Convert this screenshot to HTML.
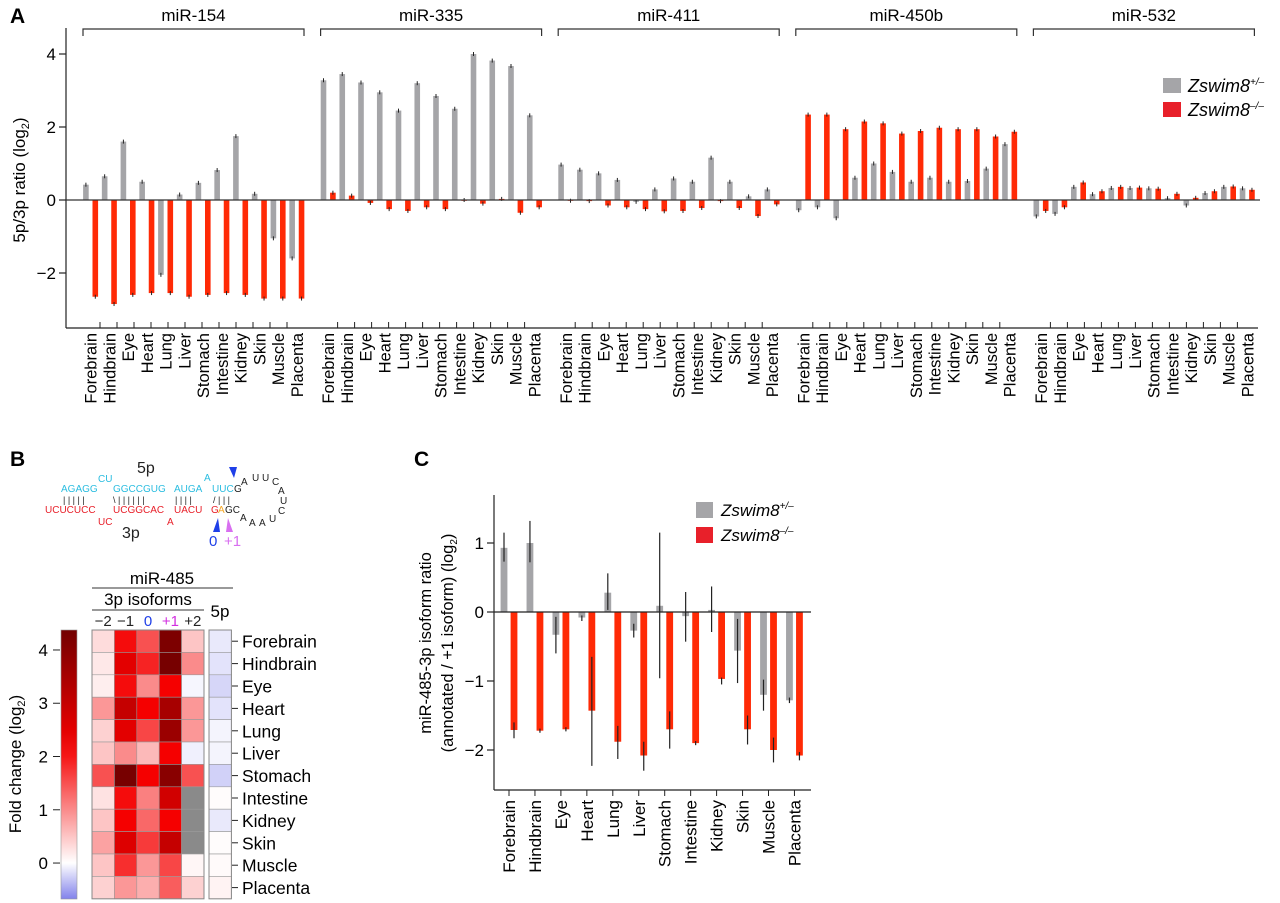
<!DOCTYPE html>
<html><head><meta charset="utf-8">
<style>
html,body{margin:0;padding:0;background:#fff;}
svg{display:block;font-family:"Liberation Sans",Arial,sans-serif;}
</style></head>
<body>
<svg id="fig" width="1280" height="903" viewBox="0 0 1280 903" xmlns="http://www.w3.org/2000/svg">
<text x="10" y="23" font-size="21" font-weight="bold">A</text>
<text x="10" y="466" font-size="21" font-weight="bold">B</text>
<text x="414" y="466" font-size="21" font-weight="bold">C</text>
<g id="pa"></g>
<g id="pb"></g>
<g id="pc"></g>
<g id="hp"></g>
</svg>
<script>
// ---------- data ----------
const tissues = ["Forebrain","Hindbrain","Eye","Heart","Lung","Liver","Stomach","Intestine","Kidney","Skin","Muscle","Placenta"];
const mirnas = ["miR-154","miR-335","miR-411","miR-450b","miR-532"];
const hetA_154 = [0.42,0.65,1.6,0.5,-2.05,0.15,0.47,0.82,1.75,0.17,-1.05,-1.6];
const koA_154  = [-2.65,-2.85,-2.6,-2.55,-2.55,-2.65,-2.6,-2.55,-2.6,-2.7,-2.7,-2.7];
const hetA_335 = [3.28,3.45,3.22,2.95,2.45,3.2,2.85,2.5,4.0,3.82,3.67,2.32];
const koA_335  = [0.2,0.12,-0.08,-0.25,-0.3,-0.2,-0.25,0.0,-0.1,0.03,-0.35,-0.2];
const hetA_411 = [0.97,0.83,0.73,0.55,-0.05,0.29,0.59,0.5,1.16,0.5,0.1,0.29];
const koA_411  = [-0.02,-0.03,-0.15,-0.2,-0.25,-0.31,-0.3,-0.22,-0.03,-0.22,-0.44,-0.12];
const hetA_450b= [-0.28,-0.2,-0.5,0.61,1.0,0.77,0.5,0.61,0.5,0.52,0.86,1.53];
const koA_450b = [2.34,2.34,1.94,2.15,2.1,1.82,1.89,1.98,1.94,1.94,1.74,1.87];
const hetA_532 = [-0.45,-0.38,0.36,0.16,0.33,0.33,0.32,0.05,-0.15,0.19,0.36,0.32];
const koA_532  = [-0.3,-0.2,0.48,0.24,0.36,0.34,0.31,0.17,0.06,0.24,0.37,0.28];
const hetA = [hetA_154,hetA_335,hetA_411,hetA_450b,hetA_532];
const koA = [koA_154,koA_335,koA_411,koA_450b,koA_532];
const yTicksA = [-2,0,2,4];
const yTickLabelsA = ["\u22122","0","2","4"];

const hetC = [0.93,1.0,-0.33,-0.08,0.28,-0.27,0.09,-0.06,0.03,-0.56,-1.2,-1.28];
const hetCLo = [0.73,0.72,-0.6,-0.13,0.03,-0.37,-0.96,-0.43,-0.29,-1.03,-1.43,-1.32];
const hetCHi = [1.15,1.32,-0.07,-0.05,0.56,-0.17,1.15,0.29,0.37,-0.1,-0.98,-1.24];
const koC = [-1.71,-1.72,-1.7,-1.43,-1.88,-2.08,-1.7,-1.9,-0.97,-1.7,-2.0,-2.08];
const koCLo = [-1.83,-1.75,-1.73,-2.23,-2.13,-2.3,-1.98,-1.93,-1.05,-1.92,-2.18,-2.15];
const koCHi = [-1.6,-1.69,-1.67,-0.65,-1.65,-1.88,-1.44,-1.87,-0.95,-1.5,-1.82,-2.03];
const yTicksC = [-2,-1,0,1];
const yTickLabelsC = ["\u22122","\u22121","0","1"];

const isoCols = ["\u22122","\u22121","0","+1","+2"];
const heatIso = [
 [0.3,2.1,1.5,4.2,0.5],
 [0.2,2.5,1.9,4.3,1.0],
 [0.15,2.1,1.0,2.2,-0.05],
 [0.9,3.0,2.2,3.5,0.9],
 [0.4,2.5,1.6,3.7,0.9],
 [0.5,1.0,0.6,2.2,-0.08],
 [1.5,4.3,2.2,4.0,1.5],
 [0.25,2.1,1.1,2.8,null],
 [0.5,2.2,1.3,2.2,null],
 [0.8,2.6,1.7,3.0,null],
 [0.5,1.8,0.9,1.6,0.08],
 [0.4,0.9,0.7,1.4,0.4]];
const heat5p = [-0.12,-0.15,-0.22,-0.15,-0.06,-0.06,-0.25,0.03,-0.12,0.03,0.04,0.1];
const cbTicks = [0,1,2,3,4];

// ---------- helpers ----------
const NS="http://www.w3.org/2000/svg";
function mk(parent,tag,attrs,txt){const e=document.createElementNS(NS,tag);for(const k in attrs)e.setAttribute(k,attrs[k]);if(txt!==undefined)e.textContent=txt;parent.appendChild(e);return e;}
const GREY="#a5a5a8", RED="#ff2a06", RED2="#e8202a";

// ---------- Panel A ----------
const pa=document.getElementById('pa');
const yA=v=>200-v*36.5;
const axL=66, axTop=28, axBot=328;
let e;
e=mk(pa,'line',{x1:axL,y1:axTop,x2:axL,y2:axBot,stroke:'#222','stroke-width':1.2});


e=mk(pa,'line',{x1:axL,y1:axBot,x2:1258,y2:axBot,stroke:'#222','stroke-width':1.2});


yTicksA.forEach((t,i)=>{
 mk(pa,'line',{x1:axL-7,y1:yA(t),x2:axL,y2:yA(t),stroke:'#222','stroke-width':1.2});
 e=mk(pa,'text',{x:axL-10,y:yA(t)+6,'font-size':17,'text-anchor':'end'},yTickLabelsA[i]);
 
 
});
e=mk(pa,'text',{x:0,y:0,'font-size':17,'text-anchor':'middle',transform:'translate(25,180) rotate(-90)'});


e.innerHTML='5p/3p ratio (log<tspan font-size="11" dy="4">2</tspan><tspan dy="-4">)</tspan>';
const groupW=237.6, pairW=18.75, firstPair=90.6, bw=5.6;
mirnas.forEach((m,g)=>{
 const gx=g*groupW;
 const bx1=83+gx, bx2=304+gx;
 e=mk(pa,'path',{d:`M${bx1},36 V29 H${bx2} V36`,fill:'none',stroke:'#333','stroke-width':1.2});
 
 
 e=mk(pa,'text',{x:(bx1+bx2)/2,y:21,'font-size':17,'text-anchor':'middle'},m);
 
 
 tissues.forEach((t,i)=>{
  const cx=firstPair+gx+i*pairW;
  const tx=100+gx+i*17;
  mk(pa,'line',{x1:tx,y1:axBot-6,x2:tx,y2:axBot,stroke:'#222','stroke-width':1});
  e=mk(pa,'text',{x:0,y:0,'font-size':16.5,'text-anchor':'end',transform:`translate(${cx+6},${axBot+5}) rotate(-90)`},t);
  
  
  [[hetA[g][i],GREY,cx-4.7,'bar-het'],[koA[g][i],RED,cx+4.7,'bar-ko']].forEach(([v,c,x,n])=>{
   const y0=yA(0), y1=yA(v);
   e=mk(pa,'rect',{x:x-bw/2,y:Math.min(y0,y1),width:bw,height:Math.max(0.8,Math.abs(y1-y0)),fill:c});
   
   
   mk(pa,'line',{x1:x,y1:y1-2,x2:x,y2:y1+2,stroke:'#222','stroke-width':1});
  });
 });
});
e=mk(pa,'line',{x1:axL,y1:yA(0),x2:1260,y2:yA(0),stroke:'#333','stroke-width':1.2});


// legend A
e=mk(pa,'rect',{x:1163,y:78,width:18,height:15,fill:GREY});


e=mk(pa,'rect',{x:1163,y:102,width:18,height:15,fill:RED2});


e=mk(pa,'text',{x:1188,y:92,'font-size':18,'font-style':'italic'});
e.innerHTML='Zswim8<tspan font-size="10" dy="-7">+/\u2013</tspan>';


e=mk(pa,'text',{x:1188,y:116,'font-size':18,'font-style':'italic'});
e.innerHTML='Zswim8<tspan font-size="10" dy="-7">\u2013/\u2013</tspan>';



// ---------- Panel C ----------
const pc=document.getElementById('pc');
const yC=v=>612-v*69;
const cL=494, cT=495, cB=790, cR=811;
e=mk(pc,'line',{x1:cL,y1:cT,x2:cL,y2:cB,stroke:'#222','stroke-width':1.2});


e=mk(pc,'line',{x1:cL,y1:cB,x2:cR,y2:cB,stroke:'#222','stroke-width':1.2});


yTicksC.forEach((t,i)=>{
 mk(pc,'line',{x1:cL-7,y1:yC(t),x2:cL,y2:yC(t),stroke:'#222','stroke-width':1.2});
 e=mk(pc,'text',{x:cL-10,y:yC(t)+6,'font-size':17,'text-anchor':'end'},yTickLabelsC[i]);
 
 
});
e=mk(pc,'text',{x:0,y:0,'font-size':16.5,'text-anchor':'middle',transform:'translate(431,643) rotate(-90)'},'miR-485-3p isoform ratio');


e=mk(pc,'text',{x:0,y:0,'font-size':16.5,'text-anchor':'middle',transform:'translate(453,643) rotate(-90)'});
e.innerHTML='(annotated / +1 isoform) (log<tspan font-size="10" dy="4">2</tspan><tspan dy="-4">)</tspan>';


tissues.forEach((t,i)=>{
 const tx=509+i*25.95;
 mk(pc,'line',{x1:tx,y1:cB,x2:tx,y2:cB+6,stroke:'#222','stroke-width':1});
 e=mk(pc,'text',{x:0,y:0,'font-size':17,'text-anchor':'end',transform:`translate(${tx+6},${cB+10}) rotate(-90)`},t);
 
 
 [[hetC[i],hetCLo[i],hetCHi[i],GREY,tx-5,'bar-het-c'],[koC[i],koCLo[i],koCHi[i],RED,tx+5,'bar-ko-c']].forEach(([v,lo,hi,c,x,n])=>{
  const y0=yC(0), y1=yC(v);
  e=mk(pc,'rect',{x:x-3.4,y:Math.min(y0,y1),width:6.8,height:Math.abs(y1-y0),fill:c});
  
  
  mk(pc,'line',{x1:x,y1:yC(lo),x2:x,y2:yC(hi),stroke:'#222','stroke-width':1.2});
 });
});
e=mk(pc,'line',{x1:cL,y1:yC(0),x2:cR,y2:yC(0),stroke:'#222','stroke-width':1.2});


e=mk(pc,'rect',{x:696,y:502,width:17,height:16,fill:GREY});


e=mk(pc,'rect',{x:696,y:527,width:17,height:16,fill:RED2});


e=mk(pc,'text',{x:721,y:516,'font-size':17,'font-style':'italic'});
e.innerHTML='Zswim8<tspan font-size="10" dy="-7">+/\u2013</tspan>';


e=mk(pc,'text',{x:721,y:541,'font-size':17,'font-style':'italic'});
e.innerHTML='Zswim8<tspan font-size="10" dy="-7">\u2013/\u2013</tspan>';



// ---------- Panel B heatmap ----------
const pb=document.getElementById('pb');
const vMin=-0.675, vMax=4.375;
function lerp(a,b,t){return a.map((x,i)=>Math.round(x+(b[i]-x)*t));}
function color(v){
 if(v===null) return '#8a8a8a';
 let c;
 if(v<0){c=lerp([255,255,255],[130,130,235],Math.min(1,-v/0.675));}
 else if(v<2.2){c=lerp([255,255,255],[245,0,0],v/2.2);}
 else {c=lerp([245,0,0],[115,0,0],Math.min(1,(v-2.2)/2.175));}
 return `rgb(${c[0]},${c[1]},${c[2]})`;
}
const hTop=630, rowH=22.4, cellW=22.4, hx0=92, px5=209;
heatIso.forEach((row,r)=>{
 row.forEach((v,c)=>{
  e=mk(pb,'rect',{x:hx0+c*cellW,y:hTop+r*rowH,width:cellW,height:rowH,fill:color(v),stroke:'#9a9a9a','stroke-width':0.6});
  
  
 });
 e=mk(pb,'rect',{x:px5,y:hTop+r*rowH,width:cellW,height:rowH,fill:color(heat5p[r]),stroke:'#9a9a9a','stroke-width':0.6});
 
 
 const yy=hTop+(r+0.5)*rowH;
 mk(pb,'line',{x1:232,y1:yy,x2:238,y2:yy,stroke:'#222','stroke-width':1});
 e=mk(pb,'text',{x:242,y:yy+6.5,'font-size':17.5},tissues[r]);
 
 
});
mk(pb,'rect',{x:hx0,y:hTop,width:5*cellW,height:12*rowH,fill:'none',stroke:'#888','stroke-width':1});
mk(pb,'rect',{x:px5,y:hTop,width:cellW,height:12*rowH,fill:'none',stroke:'#888','stroke-width':1});
// colorbar
const defs=mk(pb,'defs',{});
const lg=mk(defs,'linearGradient',{id:'cbg',x1:0,y1:1,x2:0,y2:0});
const cbTop=630, cbBot=899;
const ycb=v=>cbBot-(v-vMin)/(vMax-vMin)*(cbBot-cbTop);
[-0.675,-0.3,0,0.5,1,1.5,2,2.5,3,3.5,4,4.375].forEach(v=>{
 mk(lg,'stop',{offset:((v-vMin)/(vMax-vMin)).toFixed(3),'stop-color':color(v)});
});
e=mk(pb,'rect',{x:61,y:cbTop,width:16,height:cbBot-cbTop,fill:'url(#cbg)',stroke:'#999','stroke-width':0.6});


cbTicks.forEach(t=>{
 mk(pb,'line',{x1:53,y1:ycb(t),x2:60,y2:ycb(t),stroke:'#222','stroke-width':1});
 e=mk(pb,'text',{x:48,y:ycb(t)+6,'font-size':17,'text-anchor':'end'},String(t));
 
 
});
e=mk(pb,'text',{x:0,y:0,'font-size':17,'text-anchor':'middle',transform:'translate(21,764) rotate(-90)'});
e.innerHTML='Fold change (log<tspan font-size="11" dy="4">2</tspan><tspan dy="-4">)</tspan>';


e=mk(pb,'text',{x:162,y:584,'font-size':17,'text-anchor':'middle'},'miR-485');


mk(pb,'line',{x1:92,y1:588,x2:233,y2:588,stroke:'#333','stroke-width':1});
e=mk(pb,'text',{x:148,y:605,'font-size':17,'text-anchor':'middle'},'3p isoforms');


mk(pb,'line',{x1:92,y1:610,x2:204,y2:610,stroke:'#333','stroke-width':1});
e=mk(pb,'text',{x:220,y:617,'font-size':17,'text-anchor':'middle'},'5p');


const colColors=['#222','#222','#1f3fe8','#d22fe0','#222'];
isoCols.forEach((c,i)=>{
 e=mk(pb,'text',{x:hx0+(i+0.5)*cellW,y:626,'font-size':15,'text-anchor':'middle',fill:colColors[i]},c);
 
 
});

// ---------- hairpin ----------
const hp=document.getElementById('hp');
const CY='#2bbde0', RD='#e8202a', OR='#f5a623', BK='#222';
function t(x,y,s,c,fs,nm){e=mk(hp,'text',{x:x,y:y,'font-size':fs||10,fill:c},s);return e;}
t(137,473,'5p',BK,16,'strand-5p-label');
t(98,482,'CU',CY);
t(204,481,'A',CY);
t(61,492,'AGAGG',CY);t(113,492,'GGCCGUG',CY);t(174,492,'AUGA',CY);t(212,492,'UUC',CY);t(234,492,'G',BK);
t(63,503,'| | | | |',BK,9);t(113,503,'\\ | | | | | |',BK,9);t(175,503,'| | | |',BK,9);t(213,503,'/ | | |',BK,9);
t(45,513,'UCUCUCC',RD);t(113,513,'UCGGCAC',RD);t(174,513,'UACU',RD);t(211,513,'G',RD);t(218,513,'A',OR);t(225,513,'GC',BK);
t(98,525,'UC',RD);t(167,525,'A',RD);
t(122,538,'3p',BK,16,'strand-3p-label');
[[241,485,'A'],[252,481,'U'],[262,481,'U'],[272,485,'C'],[278,494,'A'],[280,504,'U'],[278,514,'C'],[269,522,'U'],[259,526,'A'],[249,526,'A'],[240,521,'A']].forEach(p=>t(p[0],p[1],p[2],BK,10,'loop-nucleotide'));
e=mk(hp,'path',{d:'M229,467 L237,467 L234,478 Z',fill:'#1f3fe8'});


e=mk(hp,'path',{d:'M213,532 L220,532 L218,518 Z',fill:'#1f3fe8'});


e=mk(hp,'path',{d:'M226,532 L233,532 L228,518 Z',fill:'#d86ff0'});


t(209,546,'0','#1f3fe8',15,'isoform-0-label');
t(224,546,'+1','#d86ff0',15,'isoform-plus1-label');
</script>
</body></html>
